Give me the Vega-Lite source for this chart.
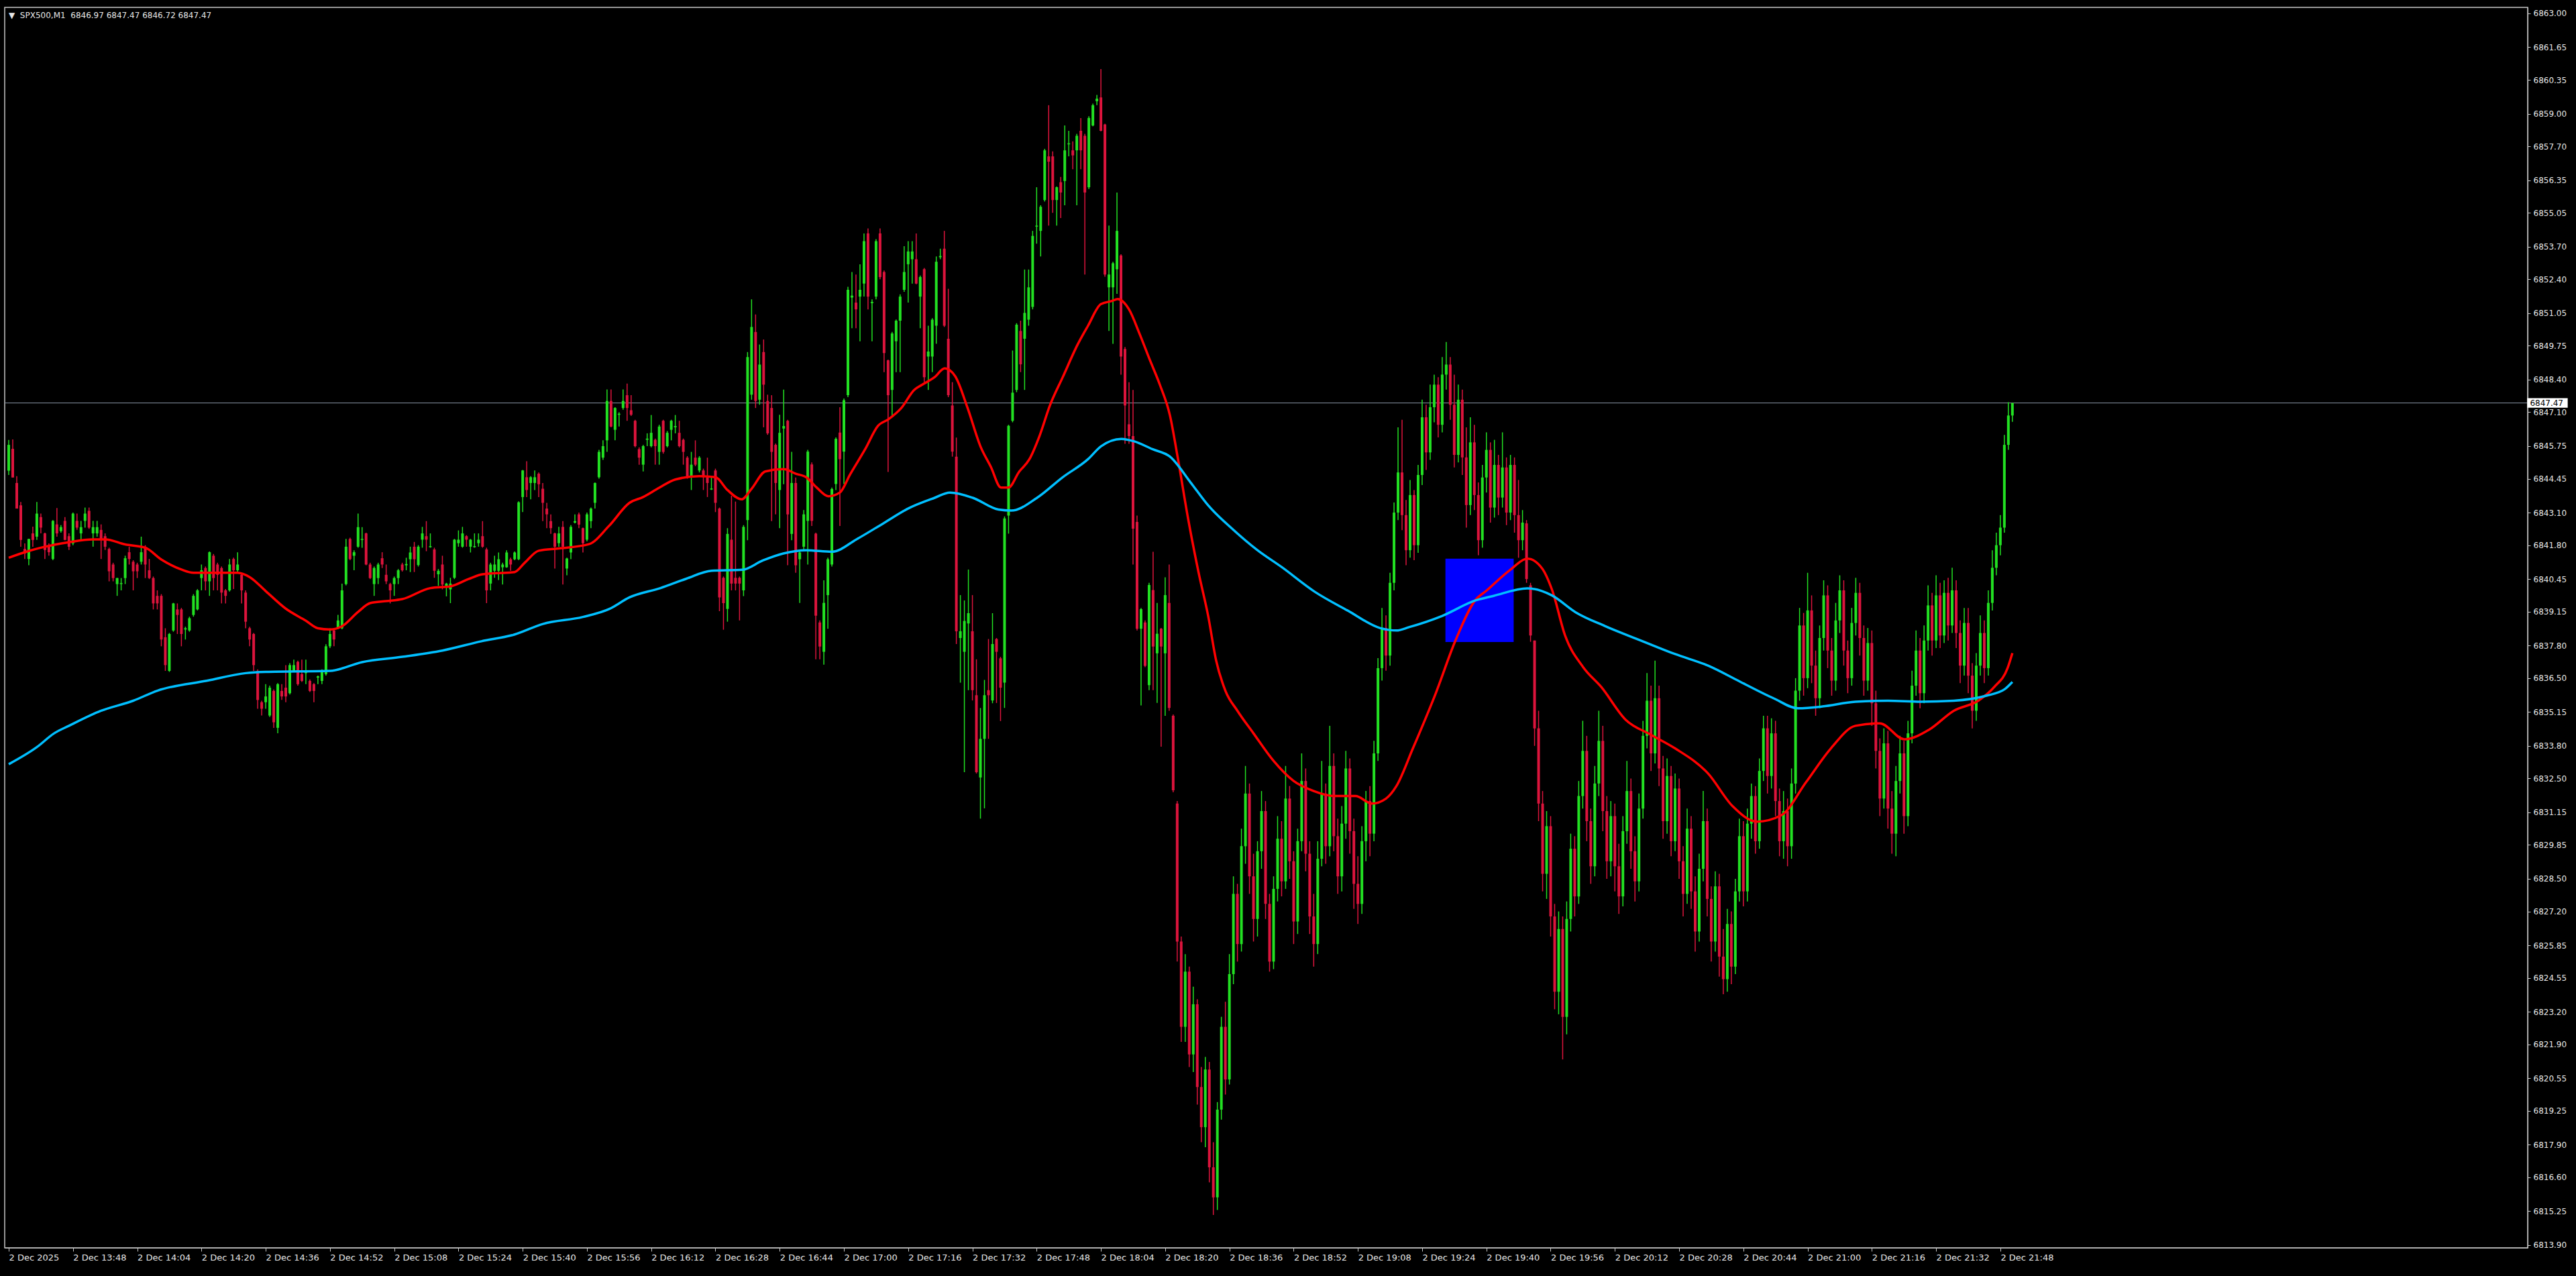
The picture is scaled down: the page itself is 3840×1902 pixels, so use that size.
{
"$schema": "https://vega.github.io/schema/vega-lite/v6.json",
"width": 3761, "height": 1849,
"autosize": {"type": "none"},
"padding": {"left": 7, "top": 11, "right": 72, "bottom": 42},
"background": "#000000",
"title": {"text": "\u25bc\u00a0\u00a0SPX500,M1\u00a0\u00a06846.97 6847.47 6846.72 6847.47", "anchor": "start", "frame": "group", "orient": "top", "offset": -28, "dx": 6, "baseline": "alphabetic", "font": "DejaVu Sans", "fontSize": 12, "fontWeight": "normal", "color": "#e6e6e6"},
"config": {
 "view": {"stroke": "#c8c8c8", "strokeWidth": 1.5},
 "axisX": {"grid": false, "domain": true, "domainColor": "#c8c8c8", "ticks": true, "tickColor": "#c8c8c8", "tickSize": 5, "labelColor": "#e6e6e6", "labelFont": "DejaVu Sans", "labelFontSize": 13, "labelAlign": "left", "labelBaseline": "top", "labelPadding": 3, "labelOverlap": false, "labelFlush": false, "labelBound": false},
 "axisY": {"grid": false, "domain": true, "domainColor": "#c8c8c8", "ticks": true, "tickColor": "#c8c8c8", "tickSize": 4, "labelColor": "#e6e6e6", "labelFont": "DejaVu Sans", "labelFontSize": 12, "labelPadding": 4, "labelAlign": "left", "labelBaseline": "middle", "labelOverlap": false, "labelFlush": false, "labelBound": false}
},
"datasets": {
"candles": [
{"k":0,"o":6844.77,"h":6846.0,"l":6844.6,"c":6845.8},
{"k":1,"o":6845.64,"h":6846.02,"l":6844.5,"c":6844.5},
{"k":2,"o":6844.28,"h":6844.55,"l":6843.26,"c":6843.26},
{"k":3,"o":6843.39,"h":6843.52,"l":6841.74,"c":6842.01},
{"k":4,"o":6841.65,"h":6841.87,"l":6841.25,"c":6841.47},
{"k":5,"o":6841.25,"h":6842.05,"l":6841.0,"c":6842.05},
{"k":6,"o":6842.27,"h":6842.54,"l":6841.74,"c":6842.01},
{"k":7,"o":6842.14,"h":6843.52,"l":6842.01,"c":6843.06},
{"k":8,"o":6842.92,"h":6843.06,"l":6842.27,"c":6842.5},
{"k":9,"o":6842.27,"h":6842.3,"l":6841.25,"c":6841.61},
{"k":10,"o":6841.74,"h":6841.87,"l":6841.38,"c":6841.52},
{"k":11,"o":6841.25,"h":6842.8,"l":6841.2,"c":6842.77},
{"k":12,"o":6842.63,"h":6843.28,"l":6842.14,"c":6842.27},
{"k":13,"o":6842.36,"h":6842.6,"l":6842.3,"c":6842.52},
{"k":14,"o":6842.77,"h":6842.92,"l":6842.0,"c":6842.01},
{"k":15,"o":6842.16,"h":6842.27,"l":6841.61,"c":6841.74},
{"k":16,"o":6841.87,"h":6843.1,"l":6841.8,"c":6843.06},
{"k":17,"o":6842.77,"h":6843.06,"l":6842.41,"c":6842.5},
{"k":18,"o":6842.27,"h":6842.77,"l":6842.01,"c":6842.52},
{"k":19,"o":6842.77,"h":6843.3,"l":6842.5,"c":6843.06},
{"k":20,"o":6843.17,"h":6843.3,"l":6842.45,"c":6842.5},
{"k":21,"o":6842.27,"h":6842.77,"l":6841.74,"c":6842.52},
{"k":22,"o":6842.27,"h":6842.77,"l":6842.14,"c":6842.52},
{"k":23,"o":6842.41,"h":6842.63,"l":6841.25,"c":6842.01},
{"k":24,"o":6842.16,"h":6842.27,"l":6841.61,"c":6841.74},
{"k":25,"o":6841.65,"h":6841.7,"l":6840.36,"c":6840.76},
{"k":26,"o":6841.03,"h":6841.1,"l":6840.36,"c":6840.49},
{"k":27,"o":6840.25,"h":6840.5,"l":6839.78,"c":6840.49},
{"k":28,"o":6840.25,"h":6840.49,"l":6840.0,"c":6840.29},
{"k":29,"o":6840.49,"h":6841.38,"l":6840.25,"c":6841.28},
{"k":30,"o":6841.52,"h":6841.74,"l":6841.03,"c":6841.25},
{"k":31,"o":6841.14,"h":6841.2,"l":6840.0,"c":6840.76},
{"k":32,"o":6841.03,"h":6841.1,"l":6840.49,"c":6840.76},
{"k":33,"o":6841.14,"h":6842.14,"l":6841.03,"c":6841.52},
{"k":34,"o":6841.74,"h":6841.8,"l":6840.49,"c":6841.03},
{"k":35,"o":6840.8,"h":6841.25,"l":6840.45,"c":6840.49},
{"k":36,"o":6840.49,"h":6840.55,"l":6839.24,"c":6839.48},
{"k":37,"o":6839.78,"h":6840.0,"l":6839.24,"c":6839.48},
{"k":38,"o":6839.78,"h":6839.85,"l":6837.77,"c":6838.04},
{"k":39,"o":6838.13,"h":6838.49,"l":6836.79,"c":6837.02},
{"k":40,"o":6836.79,"h":6838.3,"l":6836.75,"c":6838.26},
{"k":41,"o":6838.4,"h":6839.5,"l":6838.35,"c":6839.48},
{"k":42,"o":6839.24,"h":6839.48,"l":6838.26,"c":6839.02},
{"k":43,"o":6839.24,"h":6839.3,"l":6837.77,"c":6838.26},
{"k":44,"o":6838.44,"h":6838.55,"l":6838.04,"c":6838.49},
{"k":45,"o":6838.4,"h":6838.95,"l":6838.35,"c":6838.89},
{"k":46,"o":6839.02,"h":6839.85,"l":6838.95,"c":6839.78},
{"k":47,"o":6839.24,"h":6840.05,"l":6839.2,"c":6840.0},
{"k":48,"o":6840.49,"h":6841.03,"l":6840.0,"c":6840.8},
{"k":49,"o":6840.89,"h":6840.95,"l":6840.0,"c":6840.36},
{"k":50,"o":6840.36,"h":6841.55,"l":6839.78,"c":6841.52},
{"k":51,"o":6841.38,"h":6841.45,"l":6840.0,"c":6840.49},
{"k":52,"o":6841.03,"h":6841.1,"l":6840.0,"c":6840.62},
{"k":53,"o":6840.89,"h":6840.95,"l":6839.48,"c":6839.91},
{"k":54,"o":6840.0,"h":6840.05,"l":6839.48,"c":6839.78},
{"k":55,"o":6840.0,"h":6841.25,"l":6839.95,"c":6841.03},
{"k":56,"o":6841.25,"h":6841.3,"l":6840.05,"c":6840.8},
{"k":57,"o":6840.8,"h":6841.52,"l":6840.75,"c":6841.03},
{"k":58,"o":6840.62,"h":6840.7,"l":6839.48,"c":6840.0},
{"k":59,"o":6839.91,"h":6840.0,"l":6838.49,"c":6838.75},
{"k":60,"o":6838.49,"h":6838.55,"l":6837.77,"c":6838.04},
{"k":61,"o":6838.26,"h":6838.3,"l":6836.79,"c":6837.02},
{"k":62,"o":6836.79,"h":6836.85,"l":6835.28,"c":6835.63},
{"k":63,"o":6835.54,"h":6835.6,"l":6835.01,"c":6835.28},
{"k":64,"o":6835.54,"h":6836.26,"l":6835.28,"c":6835.77},
{"k":65,"o":6835.01,"h":6836.2,"l":6834.95,"c":6836.12},
{"k":66,"o":6835.99,"h":6836.05,"l":6834.52,"c":6834.74},
{"k":67,"o":6834.52,"h":6836.3,"l":6834.3,"c":6836.26},
{"k":68,"o":6835.99,"h":6836.26,"l":6835.63,"c":6835.77},
{"k":69,"o":6836.12,"h":6837.02,"l":6835.54,"c":6835.77},
{"k":70,"o":6835.9,"h":6837.1,"l":6835.85,"c":6837.02},
{"k":71,"o":6836.79,"h":6837.24,"l":6836.75,"c":6837.02},
{"k":72,"o":6837.15,"h":6837.2,"l":6836.2,"c":6836.26},
{"k":73,"o":6836.66,"h":6837.24,"l":6836.35,"c":6836.39},
{"k":74,"o":6836.7,"h":6837.24,"l":6836.26,"c":6836.79},
{"k":75,"o":6836.39,"h":6836.45,"l":6835.95,"c":6835.99},
{"k":76,"o":6836.26,"h":6836.3,"l":6835.54,"c":6835.99},
{"k":77,"o":6836.52,"h":6836.6,"l":6836.26,"c":6836.57},
{"k":78,"o":6836.39,"h":6836.85,"l":6836.26,"c":6836.79},
{"k":79,"o":6836.66,"h":6837.85,"l":6836.6,"c":6837.77},
{"k":80,"o":6837.77,"h":6838.49,"l":6837.7,"c":6838.26},
{"k":81,"o":6838.4,"h":6838.45,"l":6837.77,"c":6838.04},
{"k":82,"o":6838.49,"h":6839.02,"l":6838.45,"c":6838.8},
{"k":83,"o":6838.49,"h":6840.27,"l":6838.45,"c":6840.0},
{"k":84,"o":6840.25,"h":6842.05,"l":6840.2,"c":6841.74},
{"k":85,"o":6842.05,"h":6842.1,"l":6841.2,"c":6841.25},
{"k":86,"o":6841.38,"h":6841.6,"l":6840.8,"c":6841.52},
{"k":87,"o":6841.74,"h":6843.06,"l":6841.7,"c":6842.52},
{"k":88,"o":6842.01,"h":6842.52,"l":6841.7,"c":6842.05},
{"k":89,"o":6842.27,"h":6842.3,"l":6841.0,"c":6841.03},
{"k":90,"o":6841.03,"h":6841.1,"l":6840.45,"c":6840.49},
{"k":91,"o":6840.25,"h":6840.95,"l":6839.78,"c":6840.89},
{"k":92,"o":6840.49,"h":6841.1,"l":6840.25,"c":6841.03},
{"k":93,"o":6841.28,"h":6841.52,"l":6840.89,"c":6841.03},
{"k":94,"o":6840.62,"h":6841.03,"l":6840.25,"c":6840.36},
{"k":95,"o":6840.25,"h":6840.3,"l":6839.48,"c":6840.0},
{"k":96,"o":6840.25,"h":6840.55,"l":6839.78,"c":6840.49},
{"k":97,"o":6840.49,"h":6840.85,"l":6840.25,"c":6840.8},
{"k":98,"o":6841.03,"h":6841.1,"l":6840.75,"c":6840.8},
{"k":99,"o":6841.0,"h":6841.3,"l":6840.8,"c":6841.05},
{"k":100,"o":6841.24,"h":6841.74,"l":6840.73,"c":6841.51},
{"k":101,"o":6841.74,"h":6841.93,"l":6840.73,"c":6841.24},
{"k":102,"o":6841.01,"h":6841.8,"l":6840.95,"c":6841.74},
{"k":103,"o":6842.02,"h":6842.53,"l":6841.7,"c":6842.27},
{"k":104,"o":6842.16,"h":6842.76,"l":6841.56,"c":6842.02},
{"k":105,"o":6841.72,"h":6842.27,"l":6841.7,"c":6841.76},
{"k":106,"o":6841.63,"h":6841.7,"l":6840.5,"c":6840.78},
{"k":107,"o":6840.64,"h":6840.85,"l":6840.18,"c":6840.78},
{"k":108,"o":6841.03,"h":6841.38,"l":6840.04,"c":6840.23},
{"k":109,"o":6840.18,"h":6840.3,"l":6839.76,"c":6840.27},
{"k":110,"o":6840.04,"h":6840.5,"l":6839.49,"c":6840.27},
{"k":111,"o":6840.5,"h":6842.05,"l":6840.45,"c":6842.02},
{"k":112,"o":6841.88,"h":6842.39,"l":6841.74,"c":6842.02},
{"k":113,"o":6841.74,"h":6842.53,"l":6841.7,"c":6842.27},
{"k":114,"o":6842.16,"h":6842.2,"l":6841.74,"c":6842.02},
{"k":115,"o":6841.74,"h":6842.05,"l":6841.51,"c":6842.02},
{"k":116,"o":6841.72,"h":6842.27,"l":6841.7,"c":6841.76},
{"k":117,"o":6841.88,"h":6842.27,"l":6841.74,"c":6842.02},
{"k":118,"o":6842.16,"h":6842.76,"l":6841.7,"c":6841.74},
{"k":119,"o":6841.63,"h":6841.7,"l":6839.49,"c":6840.0},
{"k":120,"o":6840.27,"h":6841.1,"l":6840.0,"c":6841.03},
{"k":121,"o":6840.78,"h":6841.38,"l":6840.5,"c":6841.03},
{"k":122,"o":6840.78,"h":6841.51,"l":6840.41,"c":6841.24},
{"k":123,"o":6840.92,"h":6841.1,"l":6840.23,"c":6841.03},
{"k":124,"o":6840.92,"h":6841.6,"l":6840.9,"c":6841.51},
{"k":125,"o":6841.24,"h":6841.3,"l":6840.78,"c":6841.03},
{"k":126,"o":6841.24,"h":6841.55,"l":6841.2,"c":6841.51},
{"k":127,"o":6841.24,"h":6843.55,"l":6841.2,"c":6843.51},
{"k":128,"o":6843.72,"h":6844.8,"l":6843.12,"c":6844.78},
{"k":129,"o":6844.51,"h":6845.15,"l":6843.72,"c":6844.0},
{"k":130,"o":6844.28,"h":6844.55,"l":6843.63,"c":6844.51},
{"k":131,"o":6844.28,"h":6844.78,"l":6844.0,"c":6844.51},
{"k":132,"o":6844.65,"h":6844.7,"l":6843.72,"c":6844.23},
{"k":133,"o":6844.05,"h":6844.28,"l":6842.76,"c":6843.49},
{"k":134,"o":6843.26,"h":6843.49,"l":6842.48,"c":6843.03},
{"k":135,"o":6842.76,"h":6843.03,"l":6842.25,"c":6842.48},
{"k":136,"o":6842.27,"h":6842.3,"l":6840.87,"c":6841.74},
{"k":137,"o":6841.88,"h":6842.53,"l":6841.74,"c":6842.27},
{"k":138,"o":6842.53,"h":6842.76,"l":6840.23,"c":6841.74},
{"k":139,"o":6840.87,"h":6841.3,"l":6840.6,"c":6841.27},
{"k":140,"o":6841.51,"h":6842.6,"l":6841.24,"c":6842.53},
{"k":141,"o":6842.7,"h":6843.03,"l":6842.67,"c":6842.76},
{"k":142,"o":6843.03,"h":6843.1,"l":6842.48,"c":6842.62},
{"k":143,"o":6842.48,"h":6842.5,"l":6841.51,"c":6841.88},
{"k":144,"o":6842.02,"h":6843.1,"l":6841.95,"c":6843.03},
{"k":145,"o":6842.76,"h":6843.3,"l":6842.48,"c":6843.26},
{"k":146,"o":6843.49,"h":6844.3,"l":6843.26,"c":6844.28},
{"k":147,"o":6844.51,"h":6845.6,"l":6844.45,"c":6845.52},
{"k":148,"o":6845.29,"h":6845.98,"l":6845.2,"c":6845.75},
{"k":149,"o":6845.98,"h":6848.01,"l":6845.52,"c":6847.55},
{"k":150,"o":6847.55,"h":6848.01,"l":6846.5,"c":6846.53},
{"k":151,"o":6846.4,"h":6847.3,"l":6845.98,"c":6847.27},
{"k":152,"o":6847.0,"h":6847.1,"l":6846.53,"c":6847.04},
{"k":153,"o":6847.27,"h":6848.01,"l":6847.2,"c":6847.55},
{"k":154,"o":6847.78,"h":6848.24,"l":6846.76,"c":6847.27},
{"k":155,"o":6847.18,"h":6847.78,"l":6846.95,"c":6847.0},
{"k":156,"o":6846.76,"h":6846.8,"l":6845.7,"c":6845.75},
{"k":157,"o":6845.63,"h":6845.7,"l":6845.01,"c":6845.29},
{"k":158,"o":6845.01,"h":6845.8,"l":6844.74,"c":6845.75},
{"k":159,"o":6846.0,"h":6846.26,"l":6845.75,"c":6846.05},
{"k":160,"o":6845.75,"h":6846.99,"l":6845.7,"c":6846.28},
{"k":161,"o":6846.0,"h":6846.05,"l":6845.01,"c":6845.75},
{"k":162,"o":6845.52,"h":6846.6,"l":6845.01,"c":6846.53},
{"k":163,"o":6846.76,"h":6846.8,"l":6845.45,"c":6845.52},
{"k":164,"o":6845.75,"h":6846.35,"l":6845.7,"c":6846.28},
{"k":165,"o":6846.4,"h":6846.8,"l":6845.98,"c":6846.76},
{"k":166,"o":6846.5,"h":6846.99,"l":6846.26,"c":6846.55},
{"k":167,"o":6846.28,"h":6846.76,"l":6845.7,"c":6845.75},
{"k":168,"o":6846.0,"h":6846.05,"l":6845.01,"c":6845.52},
{"k":169,"o":6845.29,"h":6845.35,"l":6844.45,"c":6844.51},
{"k":170,"o":6844.51,"h":6845.52,"l":6844.0,"c":6845.01},
{"k":171,"o":6845.29,"h":6845.98,"l":6844.95,"c":6845.01},
{"k":172,"o":6844.78,"h":6845.35,"l":6844.7,"c":6845.29},
{"k":173,"o":6844.78,"h":6844.85,"l":6844.0,"c":6844.51},
{"k":174,"o":6844.51,"h":6845.29,"l":6843.72,"c":6844.28},
{"k":175,"o":6844.02,"h":6844.51,"l":6844.0,"c":6844.06},
{"k":176,"o":6844.78,"h":6844.85,"l":6843.12,"c":6843.49},
{"k":177,"o":6843.26,"h":6843.3,"l":6839.17,"c":6839.72},
{"k":178,"o":6840.5,"h":6840.55,"l":6838.43,"c":6839.49},
{"k":179,"o":6839.26,"h":6842.48,"l":6838.75,"c":6842.25},
{"k":180,"o":6842.02,"h":6843.77,"l":6840.0,"c":6840.27},
{"k":181,"o":6840.5,"h":6843.54,"l":6840.0,"c":6840.27},
{"k":182,"o":6840.5,"h":6840.55,"l":6838.8,"c":6840.27},
{"k":183,"o":6840.0,"h":6842.6,"l":6839.77,"c":6842.53},
{"k":184,"o":6842.8,"h":6849.5,"l":6842.0,"c":6849.3},
{"k":185,"o":6847.8,"h":6851.6,"l":6847.6,"c":6850.5},
{"k":186,"o":6850.3,"h":6851.0,"l":6847.27,"c":6847.55},
{"k":187,"o":6847.6,"h":6849.8,"l":6847.4,"c":6849.0},
{"k":188,"o":6849.5,"h":6850.0,"l":6846.5,"c":6848.2},
{"k":189,"o":6847.55,"h":6847.8,"l":6846.2,"c":6846.26},
{"k":190,"o":6847.27,"h":6847.78,"l":6842.76,"c":6845.52},
{"k":191,"o":6845.8,"h":6845.85,"l":6843.03,"c":6844.28},
{"k":192,"o":6844.0,"h":6847.0,"l":6842.48,"c":6846.28},
{"k":193,"o":6846.45,"h":6848.0,"l":6844.23,"c":6846.55},
{"k":194,"o":6846.76,"h":6846.8,"l":6841.0,"c":6843.03},
{"k":195,"o":6842.25,"h":6845.52,"l":6842.0,"c":6844.28},
{"k":196,"o":6844.28,"h":6844.5,"l":6840.7,"c":6841.0},
{"k":197,"o":6841.24,"h":6841.6,"l":6839.5,"c":6841.51},
{"k":198,"o":6841.74,"h":6843.2,"l":6841.6,"c":6843.03},
{"k":199,"o":6842.77,"h":6845.6,"l":6841.03,"c":6845.53},
{"k":200,"o":6845.02,"h":6845.1,"l":6842.57,"c":6842.77},
{"k":201,"o":6842.26,"h":6842.3,"l":6837.25,"c":6838.99},
{"k":202,"o":6838.72,"h":6838.8,"l":6837.25,"c":6837.76},
{"k":203,"o":6837.55,"h":6840.4,"l":6837.04,"c":6839.5},
{"k":204,"o":6839.81,"h":6841.3,"l":6838.47,"c":6841.24},
{"k":205,"o":6841.03,"h":6844.1,"l":6840.95,"c":6844.04},
{"k":206,"o":6844.24,"h":6846.1,"l":6844.0,"c":6846.04},
{"k":207,"o":6846.29,"h":6847.3,"l":6842.57,"c":6845.23},
{"k":208,"o":6845.53,"h":6847.65,"l":6844.24,"c":6847.58},
{"k":209,"o":6847.78,"h":6852.1,"l":6847.7,"c":6851.98},
{"k":210,"o":6851.67,"h":6852.69,"l":6850.45,"c":6851.75},
{"k":211,"o":6851.47,"h":6852.59,"l":6850.45,"c":6851.2},
{"k":212,"o":6851.71,"h":6853.0,"l":6849.93,"c":6851.98},
{"k":213,"o":6852.23,"h":6854.23,"l":6851.71,"c":6853.92},
{"k":214,"o":6854.23,"h":6854.43,"l":6851.2,"c":6851.71},
{"k":215,"o":6851.45,"h":6851.6,"l":6849.93,"c":6851.5},
{"k":216,"o":6851.71,"h":6854.0,"l":6851.6,"c":6853.92},
{"k":217,"o":6854.23,"h":6854.43,"l":6852.4,"c":6852.49},
{"k":218,"o":6852.69,"h":6852.75,"l":6848.7,"c":6849.46},
{"k":219,"o":6849.17,"h":6849.2,"l":6844.72,"c":6847.78},
{"k":220,"o":6847.99,"h":6850.3,"l":6846.96,"c":6850.24},
{"k":221,"o":6849.93,"h":6850.8,"l":6848.7,"c":6850.75},
{"k":222,"o":6850.75,"h":6851.8,"l":6848.7,"c":6851.71},
{"k":223,"o":6851.98,"h":6853.72,"l":6851.9,"c":6852.69},
{"k":224,"o":6853.0,"h":6853.92,"l":6851.47,"c":6853.51},
{"k":225,"o":6853.2,"h":6853.92,"l":6852.23,"c":6853.51},
{"k":226,"o":6853.2,"h":6854.23,"l":6852.2,"c":6852.23},
{"k":227,"o":6851.71,"h":6852.55,"l":6850.45,"c":6852.49},
{"k":228,"o":6852.8,"h":6852.85,"l":6848.3,"c":6848.5},
{"k":229,"o":6849.32,"h":6850.55,"l":6847.99,"c":6849.52},
{"k":230,"o":6849.32,"h":6850.85,"l":6848.7,"c":6850.79},
{"k":231,"o":6850.55,"h":6853.31,"l":6849.83,"c":6853.1},
{"k":232,"o":6853.28,"h":6853.62,"l":6853.2,"c":6853.33},
{"k":233,"o":6853.62,"h":6854.33,"l":6850.5,"c":6850.55},
{"k":234,"o":6850.03,"h":6852.02,"l":6847.7,"c":6847.78},
{"k":235,"o":6847.37,"h":6848.3,"l":6845.33,"c":6845.53},
{"k":236,"o":6845.33,"h":6846.09,"l":6837.86,"c":6838.37},
{"k":237,"o":6838.1,"h":6839.81,"l":6836.32,"c":6838.37},
{"k":238,"o":6837.55,"h":6839.6,"l":6832.75,"c":6838.78},
{"k":239,"o":6838.68,"h":6840.83,"l":6836.02,"c":6839.09},
{"k":240,"o":6838.37,"h":6839.81,"l":6835.61,"c":6836.02},
{"k":241,"o":6835.82,"h":6837.25,"l":6832.7,"c":6832.75},
{"k":242,"o":6832.54,"h":6835.31,"l":6830.9,"c":6834.08},
{"k":243,"o":6834.08,"h":6836.43,"l":6831.31,"c":6835.82},
{"k":244,"o":6836.02,"h":6838.06,"l":6834.08,"c":6835.82},
{"k":245,"o":6835.61,"h":6839.09,"l":6835.5,"c":6837.86},
{"k":246,"o":6838.06,"h":6838.1,"l":6835.51,"c":6837.55},
{"k":247,"o":6837.29,"h":6837.35,"l":6834.79,"c":6836.12},
{"k":248,"o":6836.32,"h":6842.95,"l":6835.31,"c":6842.87},
{"k":249,"o":6842.98,"h":6846.6,"l":6842.26,"c":6846.56},
{"k":250,"o":6846.76,"h":6849.56,"l":6846.7,"c":6847.88},
{"k":251,"o":6847.99,"h":6850.65,"l":6847.9,"c":6850.59},
{"k":252,"o":6850.34,"h":6850.75,"l":6848.7,"c":6849.01},
{"k":253,"o":6850.03,"h":6852.79,"l":6847.99,"c":6851.06},
{"k":254,"o":6850.79,"h":6852.79,"l":6850.55,"c":6852.08},
{"k":255,"o":6851.3,"h":6854.33,"l":6851.2,"c":6854.13},
{"k":256,"o":6854.5,"h":6856.07,"l":6853.82,"c":6854.54},
{"k":257,"o":6854.33,"h":6855.35,"l":6853.31,"c":6855.29},
{"k":258,"o":6855.56,"h":6857.6,"l":6855.5,"c":6857.54},
{"k":259,"o":6857.3,"h":6859.34,"l":6854.54,"c":6857.09},
{"k":260,"o":6857.3,"h":6857.5,"l":6855.05,"c":6855.56},
{"k":261,"o":6855.56,"h":6856.1,"l":6854.54,"c":6856.07},
{"k":262,"o":6856.27,"h":6856.48,"l":6854.84,"c":6855.86},
{"k":263,"o":6856.32,"h":6858.53,"l":6855.35,"c":6857.54},
{"k":264,"o":6857.78,"h":6858.32,"l":6857.3,"c":6857.82},
{"k":265,"o":6857.54,"h":6857.9,"l":6856.79,"c":6857.34},
{"k":266,"o":6857.54,"h":6858.2,"l":6855.35,"c":6858.12},
{"k":267,"o":6858.32,"h":6858.83,"l":6856.79,"c":6857.54},
{"k":268,"o":6858.12,"h":6858.2,"l":6852.59,"c":6855.86},
{"k":269,"o":6856.07,"h":6858.9,"l":6856.0,"c":6858.83},
{"k":270,"o":6858.53,"h":6859.4,"l":6858.5,"c":6859.34},
{"k":271,"o":6859.5,"h":6859.75,"l":6859.34,"c":6859.6},
{"k":272,"o":6859.65,"h":6860.78,"l":6858.3,"c":6858.32},
{"k":273,"o":6858.57,"h":6858.6,"l":6852.5,"c":6852.59},
{"k":274,"o":6852.08,"h":6854.54,"l":6850.34,"c":6852.59},
{"k":275,"o":6852.08,"h":6853.1,"l":6849.83,"c":6853.04},
{"k":276,"o":6852.8,"h":6855.86,"l":6851.82,"c":6854.33},
{"k":277,"o":6853.35,"h":6853.4,"l":6848.6,"c":6849.32},
{"k":278,"o":6849.62,"h":6849.7,"l":6845.84,"c":6847.37},
{"k":279,"o":6846.62,"h":6848.3,"l":6845.84,"c":6846.15},
{"k":280,"o":6846.15,"h":6847.99,"l":6841.03,"c":6842.46},
{"k":281,"o":6842.73,"h":6842.98,"l":6838.4,"c":6838.47},
{"k":282,"o":6838.47,"h":6839.3,"l":6835.41,"c":6839.25},
{"k":283,"o":6838.72,"h":6838.8,"l":6836.94,"c":6836.99},
{"k":284,"o":6836.22,"h":6840.3,"l":6836.02,"c":6840.21},
{"k":285,"o":6840.01,"h":6841.54,"l":6836.02,"c":6837.76},
{"k":286,"o":6837.49,"h":6839.5,"l":6835.51,"c":6838.27},
{"k":287,"o":6838.47,"h":6838.5,"l":6833.77,"c":6837.76},
{"k":288,"o":6837.49,"h":6840.52,"l":6835.0,"c":6839.81},
{"k":289,"o":6839.5,"h":6841.03,"l":6835.2,"c":6835.31},
{"k":290,"o":6835.0,"h":6835.05,"l":6831.95,"c":6832.03},
{"k":291,"o":6831.5,"h":6831.6,"l":6825.2,"c":6826.0},
{"k":292,"o":6826.0,"h":6826.2,"l":6822.0,"c":6822.6},
{"k":293,"o":6822.6,"h":6825.5,"l":6822.0,"c":6824.8},
{"k":294,"o":6824.8,"h":6825.0,"l":6821.0,"c":6821.5},
{"k":295,"o":6821.5,"h":6824.2,"l":6820.8,"c":6823.5},
{"k":296,"o":6823.5,"h":6823.7,"l":6819.5,"c":6820.2},
{"k":297,"o":6820.2,"h":6821.0,"l":6818.0,"c":6818.6},
{"k":298,"o":6818.6,"h":6821.4,"l":6817.8,"c":6820.9},
{"k":299,"o":6820.9,"h":6821.2,"l":6816.4,"c":6817.0},
{"k":300,"o":6817.0,"h":6818.0,"l":6815.1,"c":6815.8},
{"k":301,"o":6815.8,"h":6819.6,"l":6815.3,"c":6819.3},
{"k":302,"o":6819.3,"h":6823.0,"l":6818.9,"c":6822.6},
{"k":303,"o":6822.6,"h":6823.6,"l":6819.9,"c":6820.5},
{"k":304,"o":6820.5,"h":6825.5,"l":6820.3,"c":6824.7},
{"k":305,"o":6824.7,"h":6828.6,"l":6824.3,"c":6827.9},
{"k":306,"o":6827.9,"h":6828.3,"l":6825.2,"c":6825.9},
{"k":307,"o":6825.9,"h":6830.5,"l":6825.6,"c":6829.8},
{"k":308,"o":6829.8,"h":6833.0,"l":6829.1,"c":6831.9},
{"k":309,"o":6831.9,"h":6832.3,"l":6827.9,"c":6828.6},
{"k":310,"o":6828.6,"h":6829.5,"l":6826.0,"c":6826.9},
{"k":311,"o":6826.9,"h":6830.0,"l":6826.2,"c":6829.6},
{"k":312,"o":6829.6,"h":6832.0,"l":6828.9,"c":6831.2},
{"k":313,"o":6831.2,"h":6831.6,"l":6826.9,"c":6827.5},
{"k":314,"o":6827.5,"h":6827.9,"l":6824.8,"c":6825.2},
{"k":315,"o":6825.2,"h":6828.6,"l":6824.9,"c":6828.1},
{"k":316,"o":6828.1,"h":6831.0,"l":6827.6,"c":6830.1},
{"k":317,"o":6830.1,"h":6830.8,"l":6827.8,"c":6828.4},
{"k":318,"o":6828.4,"h":6833.0,"l":6828.1,"c":6831.7},
{"k":319,"o":6831.7,"h":6832.2,"l":6828.5,"c":6829.2},
{"k":320,"o":6829.2,"h":6829.6,"l":6825.9,"c":6826.8},
{"k":321,"o":6826.8,"h":6830.5,"l":6826.3,"c":6830.0},
{"k":322,"o":6830.0,"h":6833.5,"l":6829.6,"c":6832.4},
{"k":323,"o":6832.4,"h":6832.9,"l":6828.8,"c":6829.5},
{"k":324,"o":6829.5,"h":6830.0,"l":6826.3,"c":6827.0},
{"k":325,"o":6827.0,"h":6827.9,"l":6825.0,"c":6825.9},
{"k":326,"o":6825.9,"h":6830.0,"l":6825.5,"c":6829.3},
{"k":327,"o":6829.3,"h":6833.2,"l":6829.0,"c":6831.9},
{"k":328,"o":6831.9,"h":6832.3,"l":6829.1,"c":6829.8},
{"k":329,"o":6829.8,"h":6834.6,"l":6829.4,"c":6833.0},
{"k":330,"o":6833.0,"h":6833.5,"l":6829.6,"c":6830.2},
{"k":331,"o":6830.2,"h":6830.9,"l":6827.9,"c":6828.6},
{"k":332,"o":6828.6,"h":6831.4,"l":6828.0,"c":6830.7},
{"k":333,"o":6830.7,"h":6833.6,"l":6830.1,"c":6832.9},
{"k":334,"o":6832.9,"h":6833.3,"l":6829.5,"c":6830.4},
{"k":335,"o":6830.4,"h":6830.9,"l":6827.3,"c":6828.3},
{"k":336,"o":6828.3,"h":6829.4,"l":6826.7,"c":6827.5},
{"k":337,"o":6827.5,"h":6830.6,"l":6827.1,"c":6830.0},
{"k":338,"o":6830.0,"h":6832.0,"l":6829.2,"c":6831.6},
{"k":339,"o":6831.6,"h":6832.2,"l":6829.4,"c":6830.3},
{"k":340,"o":6830.3,"h":6834.0,"l":6830.0,"c":6833.5},
{"k":341,"o":6833.5,"h":6837.3,"l":6833.2,"c":6836.9},
{"k":342,"o":6836.9,"h":6839.3,"l":6836.4,"c":6838.5},
{"k":343,"o":6838.5,"h":6839.0,"l":6836.8,"c":6837.4},
{"k":344,"o":6837.4,"h":6840.7,"l":6837.0,"c":6840.3},
{"k":345,"o":6840.3,"h":6843.5,"l":6840.0,"c":6843.1},
{"k":346,"o":6843.1,"h":6846.5,"l":6842.8,"c":6844.7},
{"k":347,"o":6844.7,"h":6846.8,"l":6842.4,"c":6843.0},
{"k":348,"o":6843.0,"h":6843.6,"l":6841.0,"c":6841.6},
{"k":349,"o":6841.6,"h":6844.4,"l":6841.3,"c":6843.8},
{"k":350,"o":6843.8,"h":6844.0,"l":6841.2,"c":6841.8},
{"k":351,"o":6841.8,"h":6845.0,"l":6841.5,"c":6844.6},
{"k":352,"o":6844.6,"h":6847.6,"l":6844.2,"c":6846.9},
{"k":353,"o":6846.9,"h":6847.4,"l":6844.8,"c":6845.5},
{"k":354,"o":6845.5,"h":6848.2,"l":6845.2,"c":6847.3},
{"k":355,"o":6847.3,"h":6848.6,"l":6846.7,"c":6848.2},
{"k":356,"o":6848.2,"h":6848.5,"l":6846.1,"c":6846.6},
{"k":357,"o":6846.6,"h":6849.3,"l":6846.3,"c":6848.6},
{"k":358,"o":6848.6,"h":6849.9,"l":6848.0,"c":6849.0},
{"k":359,"o":6849.0,"h":6849.3,"l":6846.8,"c":6847.4},
{"k":360,"o":6847.4,"h":6848.6,"l":6844.9,"c":6845.4},
{"k":361,"o":6845.4,"h":6848.2,"l":6845.1,"c":6847.6},
{"k":362,"o":6847.6,"h":6848.0,"l":6844.6,"c":6845.3},
{"k":363,"o":6845.3,"h":6846.5,"l":6842.5,"c":6843.4},
{"k":364,"o":6843.4,"h":6846.9,"l":6843.0,"c":6845.9},
{"k":365,"o":6845.9,"h":6846.6,"l":6843.2,"c":6843.8},
{"k":366,"o":6843.8,"h":6844.3,"l":6841.4,"c":6842.0},
{"k":367,"o":6842.0,"h":6845.0,"l":6841.7,"c":6844.5},
{"k":368,"o":6844.5,"h":6846.3,"l":6843.9,"c":6845.6},
{"k":369,"o":6845.6,"h":6845.9,"l":6842.7,"c":6843.3},
{"k":370,"o":6843.3,"h":6846.0,"l":6842.9,"c":6845.0},
{"k":371,"o":6845.0,"h":6845.4,"l":6843.0,"c":6843.7},
{"k":372,"o":6843.7,"h":6846.3,"l":6843.3,"c":6844.9},
{"k":373,"o":6844.9,"h":6845.3,"l":6842.6,"c":6843.1},
{"k":374,"o":6843.1,"h":6845.4,"l":6842.8,"c":6845.0},
{"k":375,"o":6845.0,"h":6845.3,"l":6842.3,"c":6843.0},
{"k":376,"o":6843.0,"h":6844.4,"l":6841.3,"c":6842.0},
{"k":377,"o":6842.0,"h":6843.2,"l":6841.6,"c":6842.7},
{"k":378,"o":6842.67,"h":6842.8,"l":6840.3,"c":6840.45},
{"k":379,"o":6840.2,"h":6840.3,"l":6837.95,"c":6838.2},
{"k":380,"o":6838.0,"h":6838.0,"l":6833.8,"c":6834.5},
{"k":381,"o":6834.5,"h":6835.2,"l":6830.8,"c":6831.5},
{"k":382,"o":6831.5,"h":6832.0,"l":6828.0,"c":6828.7},
{"k":383,"o":6828.7,"h":6831.2,"l":6827.7,"c":6830.6},
{"k":384,"o":6830.6,"h":6831.0,"l":6826.2,"c":6827.0},
{"k":385,"o":6827.0,"h":6827.5,"l":6823.3,"c":6824.0},
{"k":386,"o":6824.0,"h":6827.2,"l":6823.1,"c":6826.5},
{"k":387,"o":6826.5,"h":6827.0,"l":6821.3,"c":6823.0},
{"k":388,"o":6823.0,"h":6827.6,"l":6822.3,"c":6826.9},
{"k":389,"o":6826.9,"h":6830.3,"l":6826.4,"c":6829.7},
{"k":390,"o":6829.7,"h":6830.2,"l":6827.0,"c":6827.8},
{"k":391,"o":6827.8,"h":6832.4,"l":6827.5,"c":6831.8},
{"k":392,"o":6831.8,"h":6834.8,"l":6831.3,"c":6833.6},
{"k":393,"o":6833.6,"h":6834.2,"l":6830.0,"c":6830.8},
{"k":394,"o":6830.8,"h":6831.3,"l":6828.3,"c":6829.0},
{"k":395,"o":6829.0,"h":6833.0,"l":6828.6,"c":6832.3},
{"k":396,"o":6832.3,"h":6835.2,"l":6831.8,"c":6834.0},
{"k":397,"o":6834.0,"h":6834.6,"l":6830.4,"c":6831.2},
{"k":398,"o":6831.2,"h":6831.8,"l":6828.5,"c":6829.2},
{"k":399,"o":6829.2,"h":6831.6,"l":6828.6,"c":6831.0},
{"k":400,"o":6831.0,"h":6831.5,"l":6828.0,"c":6829.0},
{"k":401,"o":6829.0,"h":6829.9,"l":6827.1,"c":6827.8},
{"k":402,"o":6827.8,"h":6831.0,"l":6827.4,"c":6830.4},
{"k":403,"o":6830.4,"h":6833.2,"l":6829.9,"c":6832.0},
{"k":404,"o":6832.0,"h":6832.5,"l":6828.9,"c":6829.6},
{"k":405,"o":6829.6,"h":6830.2,"l":6827.6,"c":6828.4},
{"k":406,"o":6828.4,"h":6831.9,"l":6828.0,"c":6831.3},
{"k":407,"o":6831.3,"h":6834.8,"l":6830.9,"c":6834.2},
{"k":408,"o":6834.2,"h":6836.7,"l":6833.7,"c":6835.6},
{"k":409,"o":6835.6,"h":6836.2,"l":6832.8,"c":6833.5},
{"k":410,"o":6833.5,"h":6837.2,"l":6833.1,"c":6835.7},
{"k":411,"o":6835.7,"h":6836.2,"l":6832.2,"c":6832.9},
{"k":412,"o":6832.9,"h":6833.4,"l":6830.1,"c":6830.8},
{"k":413,"o":6830.8,"h":6833.3,"l":6830.3,"c":6832.6},
{"k":414,"o":6832.6,"h":6833.0,"l":6829.4,"c":6830.0},
{"k":415,"o":6830.0,"h":6832.7,"l":6829.6,"c":6832.1},
{"k":416,"o":6832.1,"h":6832.5,"l":6828.5,"c":6829.2},
{"k":417,"o":6829.2,"h":6829.8,"l":6827.0,"c":6827.9},
{"k":418,"o":6827.9,"h":6831.3,"l":6827.5,"c":6830.5},
{"k":419,"o":6830.5,"h":6831.0,"l":6827.3,"c":6828.0},
{"k":420,"o":6828.0,"h":6828.6,"l":6825.6,"c":6826.4},
{"k":421,"o":6826.4,"h":6829.5,"l":6826.0,"c":6828.9},
{"k":422,"o":6828.9,"h":6832.0,"l":6828.4,"c":6830.8},
{"k":423,"o":6830.8,"h":6831.3,"l":6827.0,"c":6827.7},
{"k":424,"o":6827.7,"h":6828.2,"l":6825.2,"c":6826.0},
{"k":425,"o":6826.0,"h":6828.8,"l":6825.6,"c":6828.2},
{"k":426,"o":6828.2,"h":6828.7,"l":6824.6,"c":6825.4},
{"k":427,"o":6825.4,"h":6826.5,"l":6823.9,"c":6824.5},
{"k":428,"o":6824.5,"h":6827.3,"l":6824.0,"c":6826.7},
{"k":429,"o":6826.7,"h":6827.2,"l":6824.3,"c":6825.0},
{"k":430,"o":6825.0,"h":6828.5,"l":6824.7,"c":6828.0},
{"k":431,"o":6828.0,"h":6830.9,"l":6827.6,"c":6830.2},
{"k":432,"o":6830.2,"h":6830.8,"l":6827.4,"c":6828.0},
{"k":433,"o":6828.0,"h":6831.3,"l":6827.6,"c":6830.7},
{"k":434,"o":6830.7,"h":6832.3,"l":6830.1,"c":6831.8},
{"k":435,"o":6831.8,"h":6832.2,"l":6829.5,"c":6830.0},
{"k":436,"o":6830.0,"h":6833.3,"l":6829.7,"c":6832.8},
{"k":437,"o":6832.8,"h":6835.0,"l":6832.4,"c":6834.5},
{"k":438,"o":6834.5,"h":6835.0,"l":6831.9,"c":6832.6},
{"k":439,"o":6832.6,"h":6834.9,"l":6832.1,"c":6834.3},
{"k":440,"o":6834.3,"h":6834.8,"l":6831.0,"c":6831.6},
{"k":441,"o":6831.6,"h":6832.1,"l":6829.4,"c":6830.0},
{"k":442,"o":6830.0,"h":6832.0,"l":6829.3,"c":6831.2},
{"k":443,"o":6831.2,"h":6831.7,"l":6829.0,"c":6829.8},
{"k":444,"o":6829.8,"h":6832.9,"l":6829.3,"c":6832.3},
{"k":445,"o":6832.3,"h":6836.5,"l":6831.9,"c":6836.0},
{"k":446,"o":6836.0,"h":6839.3,"l":6835.6,"c":6838.6},
{"k":447,"o":6838.6,"h":6839.1,"l":6835.8,"c":6836.5},
{"k":448,"o":6836.5,"h":6840.7,"l":6836.1,"c":6839.2},
{"k":449,"o":6839.2,"h":6839.8,"l":6836.3,"c":6837.0},
{"k":450,"o":6837.0,"h":6837.6,"l":6835.0,"c":6835.7},
{"k":451,"o":6835.7,"h":6838.6,"l":6835.3,"c":6838.1},
{"k":452,"o":6838.1,"h":6840.4,"l":6837.6,"c":6839.8},
{"k":453,"o":6839.8,"h":6840.2,"l":6836.9,"c":6837.6},
{"k":454,"o":6837.6,"h":6838.1,"l":6835.8,"c":6836.4},
{"k":455,"o":6836.4,"h":6839.5,"l":6836.0,"c":6838.8},
{"k":456,"o":6838.8,"h":6840.6,"l":6838.3,"c":6840.0},
{"k":457,"o":6840.0,"h":6840.4,"l":6837.0,"c":6837.6},
{"k":458,"o":6837.6,"h":6838.0,"l":6835.9,"c":6836.5},
{"k":459,"o":6836.5,"h":6839.3,"l":6836.2,"c":6838.7},
{"k":460,"o":6838.7,"h":6840.5,"l":6838.2,"c":6839.9},
{"k":461,"o":6839.9,"h":6840.3,"l":6837.4,"c":6838.1},
{"k":462,"o":6838.1,"h":6838.6,"l":6835.8,"c":6836.4},
{"k":463,"o":6836.4,"h":6838.5,"l":6836.0,"c":6837.9},
{"k":464,"o":6837.9,"h":6838.4,"l":6834.6,"c":6835.5},
{"k":465,"o":6835.5,"h":6836.0,"l":6832.9,"c":6833.6},
{"k":466,"o":6833.6,"h":6834.1,"l":6831.0,"c":6831.7},
{"k":467,"o":6831.7,"h":6834.5,"l":6831.3,"c":6833.9},
{"k":468,"o":6833.9,"h":6834.4,"l":6830.5,"c":6831.3},
{"k":469,"o":6831.3,"h":6832.0,"l":6829.5,"c":6830.3},
{"k":470,"o":6830.3,"h":6833.0,"l":6829.4,"c":6832.4},
{"k":471,"o":6832.4,"h":6834.2,"l":6831.9,"c":6833.5},
{"k":472,"o":6833.5,"h":6834.0,"l":6830.3,"c":6831.0},
{"k":473,"o":6831.0,"h":6834.8,"l":6830.6,"c":6834.3},
{"k":474,"o":6834.3,"h":6836.8,"l":6833.9,"c":6836.2},
{"k":475,"o":6836.2,"h":6838.4,"l":6835.8,"c":6837.6},
{"k":476,"o":6837.6,"h":6838.1,"l":6835.3,"c":6835.9},
{"k":477,"o":6835.9,"h":6838.6,"l":6835.5,"c":6838.0},
{"k":478,"o":6838.0,"h":6840.2,"l":6837.6,"c":6839.4},
{"k":479,"o":6839.4,"h":6839.9,"l":6837.4,"c":6838.0},
{"k":480,"o":6838.0,"h":6840.6,"l":6837.7,"c":6839.8},
{"k":481,"o":6839.8,"h":6840.3,"l":6837.7,"c":6838.2},
{"k":482,"o":6838.2,"h":6840.4,"l":6837.9,"c":6839.9},
{"k":483,"o":6839.9,"h":6840.5,"l":6838.0,"c":6838.6},
{"k":484,"o":6838.6,"h":6840.9,"l":6838.3,"c":6840.0},
{"k":485,"o":6840.0,"h":6840.4,"l":6837.7,"c":6838.3},
{"k":486,"o":6838.3,"h":6838.8,"l":6836.3,"c":6837.0},
{"k":487,"o":6837.0,"h":6839.3,"l":6836.6,"c":6838.7},
{"k":488,"o":6838.7,"h":6839.3,"l":6835.9,"c":6836.6},
{"k":489,"o":6836.6,"h":6837.1,"l":6834.5,"c":6835.2},
{"k":490,"o":6835.2,"h":6837.5,"l":6834.8,"c":6837.0},
{"k":491,"o":6837.0,"h":6839.0,"l":6836.6,"c":6838.3},
{"k":492,"o":6838.3,"h":6838.8,"l":6836.3,"c":6836.9},
{"k":493,"o":6836.9,"h":6840.0,"l":6836.6,"c":6839.5},
{"k":494,"o":6839.5,"h":6841.6,"l":6839.2,"c":6840.9},
{"k":495,"o":6840.9,"h":6842.3,"l":6840.6,"c":6841.8},
{"k":496,"o":6841.8,"h":6843.0,"l":6841.4,"c":6842.5},
{"k":497,"o":6842.5,"h":6846.2,"l":6842.3,"c":6845.8},
{"k":498,"o":6845.8,"h":6847.5,"l":6845.6,"c":6846.97},
{"k":499,"o":6846.97,"h":6847.47,"l":6846.72,"c":6847.47}
],
"red": [
{"k":0,"p":6841.3},{"k":5,"p":6841.57},{"k":8,"p":6841.7},{"k":15,"p":6841.92},{"k":21,"p":6842.03},{"k":24,"p":6842.03},{"k":29,"p":6841.83},{"k":34,"p":6841.7},{"k":38,"p":6841.23},{"k":43,"p":6840.83},{"k":46,"p":6840.7},{"k":57,"p":6840.7},{"k":60,"p":6840.53},{"k":64,"p":6839.97},{"k":69,"p":6839.27},{"k":74,"p":6838.79},{"k":77,"p":6838.49},{"k":80,"p":6838.44},{"k":83,"p":6838.57},{"k":87,"p":6839.14},{"k":90,"p":6839.49},{"k":94,"p":6839.57},{"k":98,"p":6839.65},{"k":105,"p":6840.09},{"k":110,"p":6840.16},{"k":114.5,"p":6840.45},{"k":118,"p":6840.64},{"k":126,"p":6840.73},{"k":128.5,"p":6841.1},{"k":132,"p":6841.58},{"k":137,"p":6841.67},{"k":144.5,"p":6841.84},{"k":149.5,"p":6842.57},{"k":154.6,"p":6843.49},{"k":158,"p":6843.72},{"k":162,"p":6844.09},{"k":166,"p":6844.42},{"k":172,"p":6844.55},{"k":176,"p":6844.51},{"k":179,"p":6844.0},{"k":182.5,"p":6843.63},{"k":185,"p":6844.05},{"k":188.4,"p":6844.74},{"k":193,"p":6844.83},{"k":196,"p":6844.65},{"k":198.7,"p":6844.5},{"k":201.2,"p":6844.1},{"k":204.1,"p":6843.75},{"k":207,"p":6843.9},{"k":209.5,"p":6844.61},{"k":213.3,"p":6845.63},{"k":216.5,"p":6846.56},{"k":219.1,"p":6846.82},{"k":222.3,"p":6847.27},{"k":225.5,"p":6847.99},{"k":227.4,"p":6848.19},{"k":230.6,"p":6848.5},{"k":233.1,"p":6848.85},{"k":235.7,"p":6848.54},{"k":238.8,"p":6847.27},{"k":242,"p":6845.74},{"k":244.6,"p":6844.92},{"k":247.1,"p":6844.1},{"k":249,"p":6844.1},{"k":251.6,"p":6844.72},{"k":254.2,"p":6845.23},{"k":256.7,"p":6846.15},{"k":259.3,"p":6847.37},{"k":262.5,"p":6848.5},{"k":266.3,"p":6849.83},{"k":268.8,"p":6850.55},{"k":272,"p":6851.41},{"k":274.6,"p":6851.53},{"k":276.2,"p":6851.61},{"k":279,"p":6851.2},{"k":281.6,"p":6850.24},{"k":284.1,"p":6849.22},{"k":286.7,"p":6848.19},{"k":289.2,"p":6846.97},{"k":291.2,"p":6845.23},{"k":293.7,"p":6842.87},{"k":296.3,"p":6840.73},{"k":298.7,"p":6838.99},{"k":300.7,"p":6837.2},{"k":303,"p":6836.0},{"k":306,"p":6835.2},{"k":310,"p":6834.3},{"k":315,"p":6833.2},{"k":320,"p":6832.4},{"k":325,"p":6832.0},{"k":330,"p":6831.8},{"k":335.4,"p":6831.8},{"k":339.5,"p":6831.5},{"k":343,"p":6831.7},{"k":345.6,"p":6832.2},{"k":349.7,"p":6833.7},{"k":355.4,"p":6835.9},{"k":360.3,"p":6838.0},{"k":365.2,"p":6839.6},{"k":368.1,"p":6840.0},{"k":373.8,"p":6840.8},{"k":378.3,"p":6841.26},{"k":381.9,"p":6840.87},{"k":384.4,"p":6840.0},{"k":387.6,"p":6838.2},{"k":392.1,"p":6836.94},{"k":396.6,"p":6836.15},{"k":402.7,"p":6834.84},{"k":408.9,"p":6834.25},{"k":415,"p":6833.7},{"k":423.2,"p":6832.7},{"k":429.3,"p":6831.4},{"k":435.4,"p":6830.78},{"k":441.5,"p":6831.04},{"k":447.6,"p":6832.35},{"k":453.8,"p":6833.7},{"k":459.9,"p":6834.6},{"k":466,"p":6834.7},{"k":472.1,"p":6834.06},{"k":478.3,"p":6834.45},{"k":484.4,"p":6835.2},{"k":490.5,"p":6835.6},{"k":494.5,"p":6836.15},{"k":497.8,"p":6836.9},{"k":499,"p":6837.5}
],
"blue": [
{"k":0,"p":6833.07},{"k":7,"p":6833.75},{"k":11.3,"p":6834.3},{"k":15,"p":6834.6},{"k":23,"p":6835.2},{"k":31,"p":6835.6},{"k":37,"p":6836.0},{"k":49.5,"p":6836.4},{"k":59,"p":6836.7},{"k":64,"p":6836.75},{"k":80,"p":6836.79},{"k":88,"p":6837.14},{"k":98,"p":6837.35},{"k":108,"p":6837.6},{"k":117.7,"p":6837.97},{"k":126,"p":6838.24},{"k":133,"p":6838.66},{"k":143,"p":6838.94},{"k":149.6,"p":6839.26},{"k":154.6,"p":6839.72},{"k":162.3,"p":6840.09},{"k":168.7,"p":6840.46},{"k":175,"p":6840.78},{"k":182.7,"p":6840.82},{"k":187.8,"p":6841.19},{"k":192.9,"p":6841.47},{"k":198.6,"p":6841.6},{"k":205,"p":6841.54},{"k":211.4,"p":6842.06},{"k":217.8,"p":6842.67},{"k":224.2,"p":6843.28},{"k":230.6,"p":6843.69},{"k":234.4,"p":6843.9},{"k":240.1,"p":6843.69},{"k":246.5,"p":6843.22},{"k":249.7,"p":6843.18},{"k":256.1,"p":6843.69},{"k":262.5,"p":6844.51},{"k":268.8,"p":6845.23},{"k":272,"p":6845.74},{"k":277.1,"p":6846.04},{"k":280.3,"p":6845.94},{"k":284.8,"p":6845.63},{"k":289.2,"p":6845.33},{"k":294.3,"p":6844.31},{"k":298.7,"p":6843.39},{"k":304.8,"p":6842.44},{"k":311,"p":6841.6},{"k":317,"p":6840.93},{"k":325.2,"p":6839.95},{"k":333.4,"p":6839.2},{"k":341.5,"p":6838.5},{"k":345.6,"p":6838.4},{"k":348.7,"p":6838.53},{"k":357,"p":6838.98},{"k":365.3,"p":6839.6},{"k":369.8,"p":6839.78},{"k":378.2,"p":6840.08},{"k":384.2,"p":6839.81},{"k":390.3,"p":6839.12},{"k":397.5,"p":6838.58},{"k":406.8,"p":6837.98},{"k":415,"p":6837.46},{"k":423.2,"p":6837.0},{"k":431.3,"p":6836.35},{"k":439.5,"p":6835.7},{"k":445.6,"p":6835.3},{"k":451.7,"p":6835.37},{"k":459.9,"p":6835.56},{"k":468,"p":6835.6},{"k":476.2,"p":6835.56},{"k":484.4,"p":6835.6},{"k":492.5,"p":6835.8},{"k":497,"p":6836.05},{"k":499,"p":6836.35}
],
"box": [{"k":357.8,"k2":374.8,"p1":6837.94,"p2":6841.26}],
"bid": [{"p":6847.47,"label":"6847.47"}]
},
"layer": [
{"data": {"name": "box"}, "mark": {"type": "rect", "color": "#0000ff"},
 "encoding": {
  "x": {"field": "k", "type": "quantitative", "scale": {"domain": [-0.17, 626.5], "nice": false, "zero": false}, "axis": {"orient": "bottom", "values": [0,16,32,48,64,80,96,112,128,144,160,176,192,208,224,240,256,272,288,304,320,336,352,368,384,400,416,432,448,464,480,496], "labelExpr": "datum.value == 0 ? '2 Dec 2025' : '2 Dec ' + floor((812 + datum.value) / 60) + ':' + (((812 + datum.value) % 60) < 10 ? '0' : '') + ((812 + datum.value) % 60)", "title": null}},
  "x2": {"field": "k2"},
  "y": {"field": "p1", "type": "quantitative", "scale": {"domain": [6813.79, 6863.24], "nice": false, "zero": false}, "axis": {"orient": "right", "values": [6863.00,6861.65,6860.35,6859.00,6857.70,6856.35,6855.05,6853.70,6852.40,6851.05,6849.75,6848.40,6847.10,6845.75,6844.45,6843.10,6841.80,6840.45,6839.15,6837.80,6836.50,6835.15,6833.80,6832.50,6831.15,6829.85,6828.50,6827.20,6825.85,6824.55,6823.20,6821.90,6820.55,6819.25,6817.90,6816.60,6815.25,6813.90], "format": ".2f", "title": null}},
  "y2": {"field": "p2"}}},
{"data": {"name": "bid"}, "mark": {"type": "rule", "color": "#8a96a6", "strokeWidth": 1},
 "encoding": {
  "y": {"field": "p", "type": "quantitative", "scale": {"domain": [6813.79, 6863.24], "nice": false, "zero": false}, "axis": {"orient": "right", "values": [6863.00,6861.65,6860.35,6859.00,6857.70,6856.35,6855.05,6853.70,6852.40,6851.05,6849.75,6848.40,6847.10,6845.75,6844.45,6843.10,6841.80,6840.45,6839.15,6837.80,6836.50,6835.15,6833.80,6832.50,6831.15,6829.85,6828.50,6827.20,6825.85,6824.55,6823.20,6821.90,6820.55,6819.25,6817.90,6816.60,6815.25,6813.90], "format": ".2f", "title": null}}}},
{"data": {"name": "candles"}, "mark": {"type": "rule", "strokeWidth": 1.5},
 "encoding": {
  "x": {"field": "k", "type": "quantitative", "scale": {"domain": [-0.17, 626.5], "nice": false, "zero": false}, "axis": {"orient": "bottom", "values": [0,16,32,48,64,80,96,112,128,144,160,176,192,208,224,240,256,272,288,304,320,336,352,368,384,400,416,432,448,464,480,496], "labelExpr": "datum.value == 0 ? '2 Dec 2025' : '2 Dec ' + floor((812 + datum.value) / 60) + ':' + (((812 + datum.value) % 60) < 10 ? '0' : '') + ((812 + datum.value) % 60)", "title": null}},
  "y": {"field": "l", "type": "quantitative", "scale": {"domain": [6813.79, 6863.24], "nice": false, "zero": false}, "axis": {"orient": "right", "values": [6863.00,6861.65,6860.35,6859.00,6857.70,6856.35,6855.05,6853.70,6852.40,6851.05,6849.75,6848.40,6847.10,6845.75,6844.45,6843.10,6841.80,6840.45,6839.15,6837.80,6836.50,6835.15,6833.80,6832.50,6831.15,6829.85,6828.50,6827.20,6825.85,6824.55,6823.20,6821.90,6820.55,6819.25,6817.90,6816.60,6815.25,6813.90], "format": ".2f", "title": null}},
  "y2": {"field": "h"},
  "color": {"condition": {"test": "datum.c >= datum.o", "value": "#22e022"}, "value": "#dc143c"}}},
{"data": {"name": "candles"}, "mark": {"type": "bar", "width": 4},
 "encoding": {
  "x": {"field": "k", "type": "quantitative", "scale": {"domain": [-0.17, 626.5], "nice": false, "zero": false}, "axis": {"orient": "bottom", "values": [0,16,32,48,64,80,96,112,128,144,160,176,192,208,224,240,256,272,288,304,320,336,352,368,384,400,416,432,448,464,480,496], "labelExpr": "datum.value == 0 ? '2 Dec 2025' : '2 Dec ' + floor((812 + datum.value) / 60) + ':' + (((812 + datum.value) % 60) < 10 ? '0' : '') + ((812 + datum.value) % 60)", "title": null}},
  "y": {"field": "o", "type": "quantitative", "scale": {"domain": [6813.79, 6863.24], "nice": false, "zero": false}, "axis": {"orient": "right", "values": [6863.00,6861.65,6860.35,6859.00,6857.70,6856.35,6855.05,6853.70,6852.40,6851.05,6849.75,6848.40,6847.10,6845.75,6844.45,6843.10,6841.80,6840.45,6839.15,6837.80,6836.50,6835.15,6833.80,6832.50,6831.15,6829.85,6828.50,6827.20,6825.85,6824.55,6823.20,6821.90,6820.55,6819.25,6817.90,6816.60,6815.25,6813.90], "format": ".2f", "title": null}},
  "y2": {"field": "c"},
  "color": {"condition": {"test": "datum.c >= datum.o", "value": "#22e022"}, "value": "#dc143c"}}},
{"data": {"name": "red"}, "mark": {"type": "line", "color": "#ff0000", "strokeWidth": 3.5, "interpolate": "monotone"},
 "encoding": {
  "x": {"field": "k", "type": "quantitative", "scale": {"domain": [-0.17, 626.5], "nice": false, "zero": false}, "axis": {"orient": "bottom", "values": [0,16,32,48,64,80,96,112,128,144,160,176,192,208,224,240,256,272,288,304,320,336,352,368,384,400,416,432,448,464,480,496], "labelExpr": "datum.value == 0 ? '2 Dec 2025' : '2 Dec ' + floor((812 + datum.value) / 60) + ':' + (((812 + datum.value) % 60) < 10 ? '0' : '') + ((812 + datum.value) % 60)", "title": null}},
  "y": {"field": "p", "type": "quantitative", "scale": {"domain": [6813.79, 6863.24], "nice": false, "zero": false}, "axis": {"orient": "right", "values": [6863.00,6861.65,6860.35,6859.00,6857.70,6856.35,6855.05,6853.70,6852.40,6851.05,6849.75,6848.40,6847.10,6845.75,6844.45,6843.10,6841.80,6840.45,6839.15,6837.80,6836.50,6835.15,6833.80,6832.50,6831.15,6829.85,6828.50,6827.20,6825.85,6824.55,6823.20,6821.90,6820.55,6819.25,6817.90,6816.60,6815.25,6813.90], "format": ".2f", "title": null}}}},
{"data": {"name": "blue"}, "mark": {"type": "line", "color": "#00bfff", "strokeWidth": 3.5, "interpolate": "monotone"},
 "encoding": {
  "x": {"field": "k", "type": "quantitative", "scale": {"domain": [-0.17, 626.5], "nice": false, "zero": false}, "axis": {"orient": "bottom", "values": [0,16,32,48,64,80,96,112,128,144,160,176,192,208,224,240,256,272,288,304,320,336,352,368,384,400,416,432,448,464,480,496], "labelExpr": "datum.value == 0 ? '2 Dec 2025' : '2 Dec ' + floor((812 + datum.value) / 60) + ':' + (((812 + datum.value) % 60) < 10 ? '0' : '') + ((812 + datum.value) % 60)", "title": null}},
  "y": {"field": "p", "type": "quantitative", "scale": {"domain": [6813.79, 6863.24], "nice": false, "zero": false}, "axis": {"orient": "right", "values": [6863.00,6861.65,6860.35,6859.00,6857.70,6856.35,6855.05,6853.70,6852.40,6851.05,6849.75,6848.40,6847.10,6845.75,6844.45,6843.10,6841.80,6840.45,6839.15,6837.80,6836.50,6835.15,6833.80,6832.50,6831.15,6829.85,6828.50,6827.20,6825.85,6824.55,6823.20,6821.90,6820.55,6819.25,6817.90,6816.60,6815.25,6813.90], "format": ".2f", "title": null}}}},
{"data": {"name": "bid"}, "mark": {"type": "rect", "color": "#ffffff", "clip": false},
 "encoding": {
  "x": {"datum": 627.2, "type": "quantitative", "scale": {"domain": [-0.17, 626.5], "nice": false, "zero": false}, "axis": {"orient": "bottom", "values": [0,16,32,48,64,80,96,112,128,144,160,176,192,208,224,240,256,272,288,304,320,336,352,368,384,400,416,432,448,464,480,496], "labelExpr": "datum.value == 0 ? '2 Dec 2025' : '2 Dec ' + floor((812 + datum.value) / 60) + ':' + (((812 + datum.value) % 60) < 10 ? '0' : '') + ((812 + datum.value) % 60)", "title": null}},
  "x2": {"datum": 637.3},
  "y": {"datum": 6847.66, "type": "quantitative", "scale": {"domain": [6813.79, 6863.24], "nice": false, "zero": false}, "axis": {"orient": "right", "values": [6863.00,6861.65,6860.35,6859.00,6857.70,6856.35,6855.05,6853.70,6852.40,6851.05,6849.75,6848.40,6847.10,6845.75,6844.45,6843.10,6841.80,6840.45,6839.15,6837.80,6836.50,6835.15,6833.80,6832.50,6831.15,6829.85,6828.50,6827.20,6825.85,6824.55,6823.20,6821.90,6820.55,6819.25,6817.90,6816.60,6815.25,6813.90], "format": ".2f", "title": null}},
  "y2": {"datum": 6847.28}}},
{"data": {"name": "bid"}, "mark": {"type": "text", "color": "#000000", "align": "left", "baseline": "middle", "font": "DejaVu Sans", "fontSize": 12, "clip": false},
 "encoding": {
  "x": {"datum": 627.9, "type": "quantitative", "scale": {"domain": [-0.17, 626.5], "nice": false, "zero": false}, "axis": {"orient": "bottom", "values": [0,16,32,48,64,80,96,112,128,144,160,176,192,208,224,240,256,272,288,304,320,336,352,368,384,400,416,432,448,464,480,496], "labelExpr": "datum.value == 0 ? '2 Dec 2025' : '2 Dec ' + floor((812 + datum.value) / 60) + ':' + (((812 + datum.value) % 60) < 10 ? '0' : '') + ((812 + datum.value) % 60)", "title": null}},
  "y": {"field": "p", "type": "quantitative", "scale": {"domain": [6813.79, 6863.24], "nice": false, "zero": false}, "axis": {"orient": "right", "values": [6863.00,6861.65,6860.35,6859.00,6857.70,6856.35,6855.05,6853.70,6852.40,6851.05,6849.75,6848.40,6847.10,6845.75,6844.45,6843.10,6841.80,6840.45,6839.15,6837.80,6836.50,6835.15,6833.80,6832.50,6831.15,6829.85,6828.50,6827.20,6825.85,6824.55,6823.20,6821.90,6820.55,6819.25,6817.90,6816.60,6815.25,6813.90], "format": ".2f", "title": null}},
  "text": {"field": "label"}}}
]
}
